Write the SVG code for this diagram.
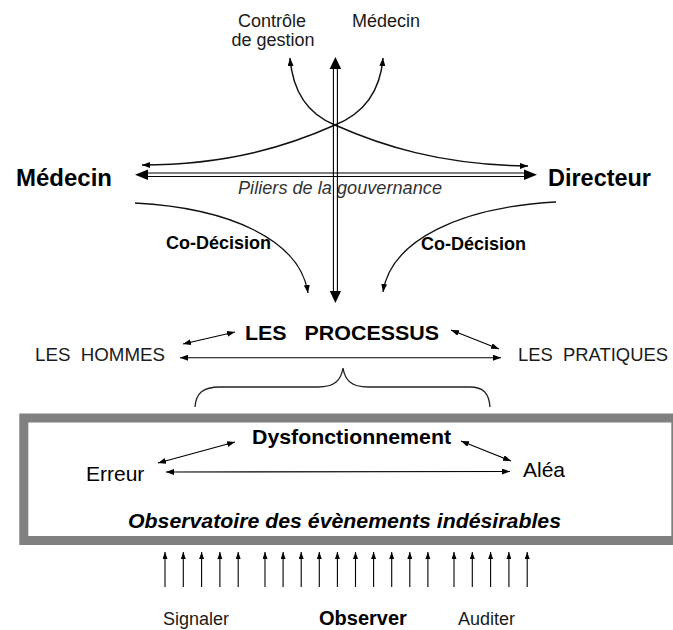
<svg xmlns="http://www.w3.org/2000/svg" width="673" height="630" viewBox="0 0 673 630">
<style>
text{font-family:"Liberation Sans",Arial,sans-serif;fill:#000;white-space:pre}
.lt{font-size:18px;fill:#1a1a1a}
.b{font-weight:bold}
.ln{fill:none;stroke:#000;stroke-width:1.1}
.cv{fill:none;stroke:#111;stroke-width:1.5}
.dl{stroke:#000;stroke-width:1.1}
.hd{fill:#000}
</style>
<defs>
<marker id="ah" viewBox="0 0 8 6" refX="8" refY="3" markerWidth="8" markerHeight="6" markerUnits="userSpaceOnUse" orient="auto-start-reverse">
<path d="M0,0 L8,3 L0,6 z" fill="#000"/>
</marker>
<marker id="up" viewBox="0 0 7 5" refX="7" refY="2.5" markerWidth="7" markerHeight="5" markerUnits="userSpaceOnUse" orient="auto">
<path d="M0,0 L7,2.5 L0,5 z" fill="#000"/>
</marker>
</defs>

<g id="box">
<rect x="23.8" y="418" width="652" height="122.5" fill="#fff" stroke="#808080" stroke-width="9"/>
</g>

<g id="connectors">
<!-- top crossing curves -->
<path class="cv" d="M290,58 C293,95 310,115 335,125 C380,145 440,165 528,166" marker-start="url(#ah)" marker-end="url(#ah)"/>
<path class="cv" d="M383,58 C380,95 360,115 335,125 C290,145 230,165 142,165" marker-start="url(#ah)" marker-end="url(#ah)"/>
<!-- horizontal double arrow -->
<line class="dl" x1="145" y1="173" x2="527" y2="173"/>
<line class="dl" x1="145" y1="176.5" x2="527" y2="176.5"/>
<polygon class="hd" points="135,174.8 148,169.5 148,180"/>
<polygon class="hd" points="537,174.8 524,169.5 524,180"/>
<!-- co-decision curves -->
<path class="cv" style="stroke-width:1.3" d="M135,203 C230,208 300,240 308,293" marker-end="url(#ah)"/>
<path class="cv" style="stroke-width:1.3" d="M556,202 C461,207 391,240 383,292" marker-end="url(#ah)"/>
<!-- process arrows -->
<line class="ln" x1="183" y1="344" x2="235" y2="332" marker-start="url(#ah)" marker-end="url(#ah)"/>
<line class="ln" x1="451" y1="330" x2="499" y2="349" marker-start="url(#ah)" marker-end="url(#ah)"/>
<line class="ln" x1="180" y1="357.7" x2="501" y2="357.7" marker-start="url(#ah)" marker-end="url(#ah)"/>
<!-- brace -->
<path fill="none" stroke="#222" stroke-width="1.3" d="M195,407 C196,393 203,387 220,387 L318,387 C335,387 341,380 343,368 C345,380 351,387 368,387 L470,387 C483,387 489,393 490,407"/>
<!-- box arrows -->
<line class="ln" x1="158" y1="463" x2="235" y2="442" marker-start="url(#ah)" marker-end="url(#ah)"/>
<line class="ln" x1="166" y1="472" x2="510" y2="471.5" marker-start="url(#ah)" marker-end="url(#ah)"/>
<line class="ln" x1="461" y1="441" x2="511" y2="461" marker-start="url(#ah)" marker-end="url(#ah)"/>
<!-- bottom arrows -->
<g class="ln" marker-end="url(#up)">
<line x1="165" y1="587" x2="165" y2="552"/>
<line x1="183.3" y1="587" x2="183.3" y2="552"/>
<line x1="201.6" y1="587" x2="201.6" y2="552"/>
<line x1="219.9" y1="587" x2="219.9" y2="552"/>
<line x1="238.2" y1="587" x2="238.2" y2="552"/>
<line x1="265" y1="587" x2="265" y2="552"/>
<line x1="283.1" y1="587" x2="283.1" y2="552"/>
<line x1="301.2" y1="587" x2="301.2" y2="552"/>
<line x1="319.3" y1="587" x2="319.3" y2="552"/>
<line x1="337.4" y1="587" x2="337.4" y2="552"/>
<line x1="355.5" y1="587" x2="355.5" y2="552"/>
<line x1="373.6" y1="587" x2="373.6" y2="552"/>
<line x1="391.7" y1="587" x2="391.7" y2="552"/>
<line x1="409.8" y1="587" x2="409.8" y2="552"/>
<line x1="427.9" y1="587" x2="427.9" y2="552"/>
<line x1="454" y1="587" x2="454" y2="552"/>
<line x1="472.3" y1="587" x2="472.3" y2="552"/>
<line x1="490.6" y1="587" x2="490.6" y2="552"/>
<line x1="508.9" y1="587" x2="508.9" y2="552"/>
<line x1="527.2" y1="587" x2="527.2" y2="552"/>
</g>
</g>

<g id="n-controle"><text class="lt" x="272" y="27" text-anchor="middle">Contrôle</text><text class="lt" x="273" y="46" text-anchor="middle">de gestion</text></g>
<g id="n-medecin-top"><text class="lt" x="352" y="27">Médecin</text></g>
<g id="n-medecin"><text class="b" x="16" y="186" font-size="23" textLength="96" lengthAdjust="spacingAndGlyphs">Médecin</text></g>
<g id="n-directeur"><text class="b" x="548" y="186" font-size="23" textLength="103" lengthAdjust="spacingAndGlyphs">Directeur</text></g>
<g id="n-piliers"><text x="238" y="194" font-size="18" font-style="italic" style="fill:#333" textLength="204" lengthAdjust="spacingAndGlyphs">Piliers de la gouvernance</text></g>
<g id="n-codecision-l"><text class="b" x="166" y="249" font-size="18">Co-Décision</text></g>
<g id="n-codecision-r"><text class="b" x="421" y="250" font-size="18">Co-Décision</text></g>

<g id="connector-main">
<line class="dl" x1="333.4" y1="67" x2="333.4" y2="293"/>
<line class="dl" x1="337.4" y1="67" x2="337.4" y2="293"/>
<polygon class="hd" points="335.4,57 329.6,69 341.2,69"/>
<polygon class="hd" points="335.4,303 329.8,291 341,291"/>
</g>

<g id="n-processus"><text class="b" x="245" y="340" font-size="21" textLength="194" lengthAdjust="spacingAndGlyphs">LES   PROCESSUS</text></g>
<g id="n-hommes"><text class="lt" x="35" y="361" font-size="18.6" style="font-size:18.6px" textLength="130" lengthAdjust="spacingAndGlyphs">LES  HOMMES</text></g>
<g id="n-pratiques"><text class="lt" x="518" y="361" style="font-size:18.6px" textLength="150" lengthAdjust="spacingAndGlyphs">LES  PRATIQUES</text></g>

<g id="n-dysfonctionnement"><text class="b" x="252" y="444" font-size="21" textLength="199" lengthAdjust="spacingAndGlyphs">Dysfonctionnement</text></g>
<g id="n-erreur"><text x="86" y="481" font-size="21">Erreur</text></g>
<g id="n-alea"><text x="523" y="477" font-size="21">Aléa</text></g>
<g id="n-observatoire"><text class="b" x="128" y="528" font-size="20" font-style="italic" textLength="433" lengthAdjust="spacingAndGlyphs">Observatoire des évènements indésirables</text></g>

<g id="n-signaler"><text class="lt" x="163" y="625">Signaler</text></g>
<g id="n-observer"><text class="b" x="319" y="625" font-size="20">Observer</text></g>
<g id="n-auditer"><text class="lt" x="458" y="625">Auditer</text></g>
</svg>
